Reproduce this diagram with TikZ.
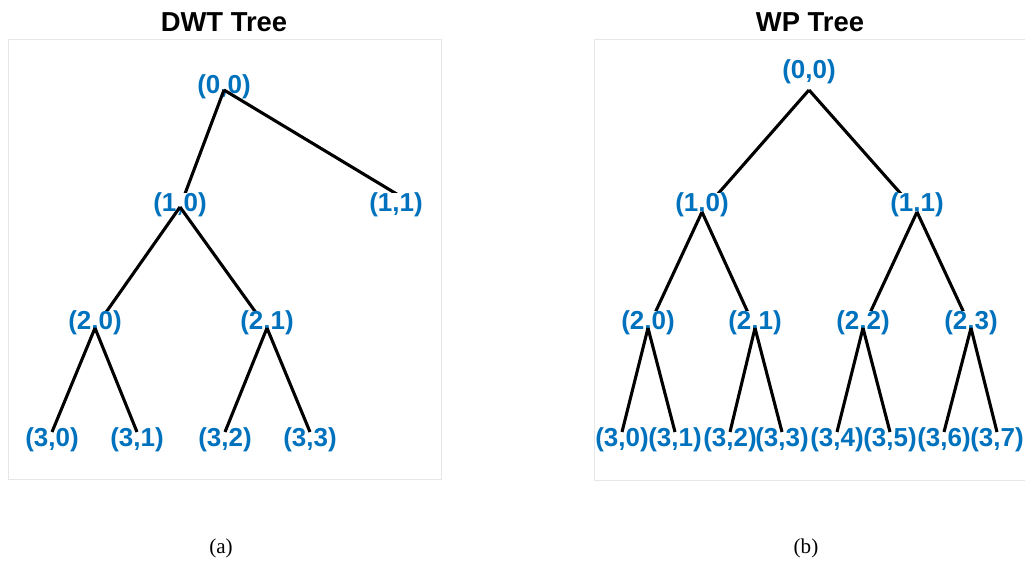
\documentclass[tikz,border=0pt]{standalone}
\usepackage{fontspec}
\setmainfont{Liberation Sans}
\newfontfamily\capfont{Liberation Serif}
\definecolor{treeblue}{HTML}{0072BD}
\definecolor{framegray}{HTML}{E6E6E6}
\begin{document}
\begin{tikzpicture}[
    frame/.style={draw=framegray, line width=0.7pt},
    branch/.style={line width=2.2pt, black},
    lbl/.style={text=treeblue, font=\fontsize{18.5}{18.5}\selectfont\bfseries, inner sep=0pt},
    inner/.style={lbl, fill=white},
    headline/.style={font=\fontsize{19.5}{20}\selectfont\bfseries},
    caption/.style={font=\capfont\fontsize{15}{16}\selectfont}
  ]
    \useasboundingbox (0,0) rectangle (25.625,14.3);
    \draw[frame] (0.2,2.3) rectangle (11.025,13.3);
    \draw[frame] (14.85,2.275) rectangle (25.625,13.3);

    \node[headline] (dwttitle) at (5.6,13.75) {DWT Tree};
    \node[headline] (wptitle) at (20.25,13.75) {WP Tree};
    \node[caption] (capa) at (5.525,0.6) {(a)};
    \node[caption] (capb) at (20.15,0.6) {(b)};

    % DWT tree
    \coordinate (d00) at (5.6,12.05);
    \coordinate (d10) at (4.5,9.125);
    \coordinate (d11) at (10.0,9.4);
    \coordinate (d20) at (2.375,6.1);
    \coordinate (d21) at (6.675,6.1);
    \coordinate (d30) at (1.3,3.5);
    \coordinate (d31) at (3.425,3.5);
    \coordinate (d32) at (5.625,3.5);
    \coordinate (d33) at (7.75,3.5);

    \node[lbl] (d00t) at (5.6,12.125) {(0,0)};
    \draw[branch] (d00) -- (d10);
    \draw[branch] (d00) -- (d11);
    \node[inner] (d10t) at (4.5,9.175) {(1,0)};
    \node[inner] (d11t) at (9.9,9.175) {(1,1)};
    \draw[branch] (d10) -- (d20);
    \draw[branch] (d10) -- (d21);
    \node[inner] (d20t) at (2.375,6.225) {(2,0)};
    \node[inner] (d21t) at (6.675,6.225) {(2,1)};
    \node[lbl] (d30t) at (1.3,3.3) {(3,0)};
    \node[lbl] (d31t) at (3.425,3.3) {(3,1)};
    \node[lbl] (d32t) at (5.625,3.3) {(3,2)};
    \node[lbl] (d33t) at (7.75,3.3) {(3,3)};
    \draw[branch] (d20) -- (d30);
    \draw[branch] (d20) -- (d31);
    \draw[branch] (d21) -- (d32);
    \draw[branch] (d21) -- (d33);

    % WP tree
    \coordinate (w00) at (20.225,12.05);
    \coordinate (w10) at (17.55,9.0);
    \coordinate (w11) at (22.925,9.0);
    \coordinate (w20) at (16.2,6.1);
    \coordinate (w21) at (18.875,6.1);
    \coordinate (w22) at (21.575,6.1);
    \coordinate (w23) at (24.275,6.1);
    \coordinate (w30) at (15.55,3.5);
    \coordinate (w31) at (16.875,3.5);
    \coordinate (w32) at (18.25,3.5);
    \coordinate (w33) at (19.55,3.5);
    \coordinate (w34) at (20.925,3.5);
    \coordinate (w35) at (22.25,3.5);
    \coordinate (w36) at (23.6,3.5);
    \coordinate (w37) at (24.925,3.5);

    \node[lbl] (w00t) at (20.225,12.5) {(0,0)};
    \draw[branch] (w00) -- (w10);
    \draw[branch] (w00) -- (w11);
    \node[inner] (w10t) at (17.55,9.175) {(1,0)};
    \node[inner] (w11t) at (22.925,9.175) {(1,1)};
    \draw[branch] (w10) -- (w20);
    \draw[branch] (w10) -- (w21);
    \draw[branch] (w11) -- (w22);
    \draw[branch] (w11) -- (w23);
    \node[inner] (w20t) at (16.2,6.225) {(2,0)};
    \node[inner] (w21t) at (18.875,6.225) {(2,1)};
    \node[inner] (w22t) at (21.575,6.225) {(2,2)};
    \node[inner] (w23t) at (24.275,6.225) {(2,3)};
    \node[lbl] (w30t) at (15.55,3.3) {(3,0)};
    \node[lbl] (w31t) at (16.875,3.3) {(3,1)};
    \node[lbl] (w32t) at (18.25,3.3) {(3,2)};
    \node[lbl] (w33t) at (19.55,3.3) {(3,3)};
    \node[lbl] (w34t) at (20.925,3.3) {(3,4)};
    \node[lbl] (w35t) at (22.25,3.3) {(3,5)};
    \node[lbl] (w36t) at (23.6,3.3) {(3,6)};
    \node[lbl] (w37t) at (24.925,3.3) {(3,7)};
    \draw[branch] (w20) -- (w30);
    \draw[branch] (w20) -- (w31);
    \draw[branch] (w21) -- (w32);
    \draw[branch] (w21) -- (w33);
    \draw[branch] (w22) -- (w34);
    \draw[branch] (w22) -- (w35);
    \draw[branch] (w23) -- (w36);
    \draw[branch] (w23) -- (w37);
  \end{tikzpicture}
\end{document}
